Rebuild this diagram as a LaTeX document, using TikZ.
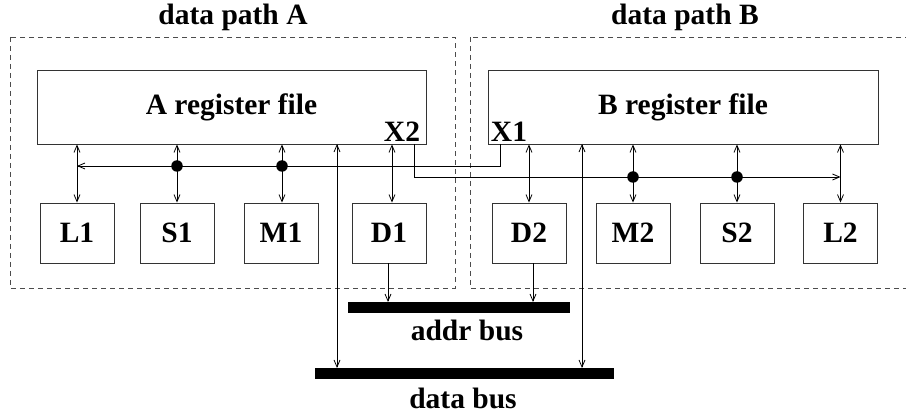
\documentclass[tikz,border=0pt]{standalone}
\usepackage{fontspec}
\setmainfont{Liberation Serif}
\usetikzlibrary{arrows.meta}
\begin{document}
\begin{tikzpicture}[x=1pt,y=-1pt,
  every node/.style={font=\fontsize{29.5}{34}\selectfont\bfseries, inner sep=0pt},
  regbox/.style={draw=black!80, line width=0.9pt, minimum width=389pt, minimum height=74pt},
  unitbox/.style={draw=black!80, line width=0.9pt, minimum width=74pt, minimum height=60pt},
  region/.style={draw=black!70, dashed, dash pattern=on 5pt off 4pt, line width=0.8pt},
  wire/.style={line width=0.9pt},
  tip/.style={-{Straight Barb[length=7pt,width=6pt,line width=0.8pt]}},
  dbl/.style={{Straight Barb[length=7pt,width=6pt,line width=0.8pt]}-{Straight Barb[length=7pt,width=6pt,line width=0.8pt]}},
  dot/.style={circle, fill=black, minimum size=11.5pt, inner sep=0pt},
  bus/.style={fill=black, draw=none}]
\useasboundingbox (0,0) rectangle (906,414);
\clip (0,0) rectangle (906,414);

% regions
\draw[region] (10,37) rectangle (455,288);
\draw[region] (470,37) rectangle (916,288);
\node (tA) at (233,17) {data path A};
\node (tB) at (685,17) {data path B};

% register files
\node[regbox] (Areg) at (231.5,107) {A register file};
\node[regbox, minimum width=390pt] (Breg) at (683,107) {B register file};
\node (X2) at (402,132) {X2};
\node (X1) at (509,132) {X1};

% units
\node[unitbox] (L1) at (77,233) {L1};
\node[unitbox] (S1) at (177,233) {S1};
\node[unitbox] (M1) at (281,233) {M1};
\node[unitbox] (D1) at (389,233) {D1};
\node[unitbox] (D2) at (529,233) {D2};
\node[unitbox] (M2) at (633,233) {M2};
\node[unitbox] (S2) at (737,233) {S2};
\node[unitbox] (L2) at (840.5,233) {L2};

% buses
\path[bus] (348,302) rectangle (570,313);
\path[bus] (315,368) rectangle (614,379);
\coordinate (addr) at (459,302);
\coordinate (data) at (464.5,368);
\node (addrlbl) at (467,330) {addr bus};
\node (datalbl) at (463,398) {data bus};

% unit to register file connections
\draw[wire,dbl] (L1.north) -- (L1.north |- Areg.south);
\draw[wire,dbl] (S1.north) -- (S1.north |- Areg.south);
\draw[wire,dbl] ([xshift=1pt]M1.north) -- ([xshift=1pt]M1.north |- Areg.south);
\draw[wire,dbl] ([xshift=3pt]D1.north) -- ([xshift=3pt]D1.north |- Areg.south);
\draw[wire,dbl] (D2.north) -- (D2.north |- Breg.south);
\draw[wire,dbl] (M2.north) -- (M2.north |- Breg.south);
\draw[wire,dbl] (S2.north) -- (S2.north |- Breg.south);
\draw[wire,dbl] (L2.north) -- (L2.north |- Breg.south);

% cross paths
\coordinate (x1a) at (500,144);
\coordinate (x1b) at (500,166);
\coordinate (x1c) at (77,166);
\draw[wire,tip] (x1a) -- (x1b) -- (x1c);
\coordinate (x2a) at (414,144);
\coordinate (x2b) at (414,177);
\coordinate (x2c) at (840.5,177);
\draw[wire,tip] (x2a) -- (x2b) -- (x2c);
\node[dot] (d1) at (177,166) {};
\node[dot] (d2) at (282,166) {};
\node[dot] (d3) at (633,177) {};
\node[dot] (d4) at (737,177) {};

% data bus connections
\coordinate (dA) at (337,144);
\coordinate (dB) at (582,144);
\draw[wire,dbl] (dA) -- (dA |- data);
\draw[wire,dbl] (dB) -- (dB |- data);

% address bus connections
\draw[wire,tip] ([xshift=-1pt]D1.south) -- ([xshift=-1pt]D1.south |- addr);
\draw[wire,tip] ([xshift=4pt]D2.south) -- ([xshift=4pt]D2.south |- addr);
\end{tikzpicture}
\end{document}
